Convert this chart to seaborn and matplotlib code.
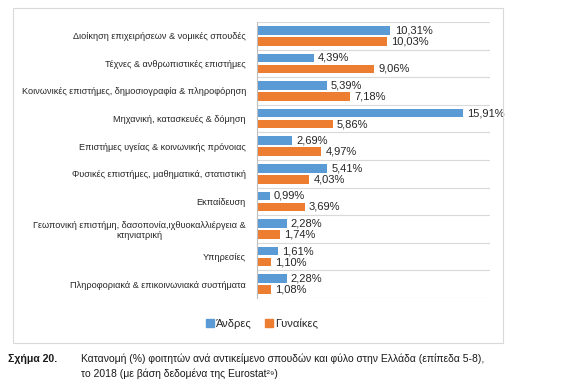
import pandas as pd
import matplotlib.pyplot as plt
from matplotlib.patches import Rectangle, Patch
import seaborn as sns

categories = [
    'Διοίκηση επιχειρήσεων & νομικές σπουδές',
    'Τέχνες & ανθρωπιστικές επιστήμες',
    'Κοινωνικές επιστήμες, δημοσιογραφία & πληροφόρηση',
    'Μηχανική, κατασκευές & δόμηση',
    'Επιστήμες υγείας & κοινωνικής πρόνοιας',
    'Φυσικές επιστήμες, μαθηματικά, στατιστική',
    'Εκπαίδευση',
    'Γεωπονική επιστήμη, δασοπονία,ιχθυοκαλλιέργεια &\nκτηνιατρική',
    'Υπηρεσίες',
    'Πληροφοριακά & επικοινωνιακά συστήματα',
]
men = [10.31, 4.39, 5.39, 15.91, 2.69, 5.41, 0.99, 2.28, 1.61, 2.28]
women = [10.03, 9.06, 7.18, 5.86, 4.97, 4.03, 3.69, 1.74, 1.10, 1.08]
series = ['Άνδρες', 'Γυναίκες']
colors = ['#5B9BD5', '#ED7D31']

df = pd.DataFrame({
    'cat': categories * 2,
    'val': men + women,
    'sex': [series[0]] * len(men) + [series[1]] * len(women),
})

sns.set_style('white')
plt.rcParams['font.family'] = ['Liberation Sans', 'DejaVu Sans']

fig = plt.figure(figsize=(5.63, 3.92), dpi=100)
ax = fig.add_axes([257 / 563, 1 - 298 / 392, 233 / 563, 276 / 392])

sns.barplot(data=df, y='cat', x='val', hue='sex', orient='h',
            palette=colors, gap=0.22, ax=ax, legend=False, linewidth=0,
            saturation=1)

for cont, vals in zip(ax.containers, [men, women]):
    ax.bar_label(cont, labels=[f'{v:.2f}%'.replace('.', ',') for v in vals],
                 padding=3, fontsize=8, color='#262626')

ax.set_xlim(0, 18)
ax.set_ylim(len(categories) - 0.5, -0.5)
ax.set_xlabel('')
ax.set_ylabel('')
ax.set_xticks([])
for y in range(len(categories) + 1):
    ax.axhline(y - 0.5, color='#d9d9d9', lw=0.8, zorder=0)
for s in ['top', 'right', 'bottom']:
    ax.spines[s].set_visible(False)
ax.spines['left'].set_color('#bfbfbf')
ax.tick_params(axis='y', length=0, pad=8, labelsize=6.6, labelcolor='#262626')
for t in ax.get_yticklabels():
    t.set_multialignment('center')

handles = [Patch(color=c, label=s) for c, s in zip(colors, series)]
fig.legend(handles=handles, loc='center', bbox_to_anchor=(262 / 563, 1 - 324 / 392),
           ncol=2, frameon=False, fontsize=8, handlelength=0.7, handleheight=0.7,
           handletextpad=0.2, columnspacing=1.2, labelcolor='#262626')

fig.patches.append(Rectangle((13 / 563, 1 - 343 / 392), 490 / 563, 335 / 392,
                             transform=fig.transFigure, fill=False,
                             edgecolor='#d9d9d9', lw=0.8))

fig.text(8 / 563, 1 - 359 / 392, 'Σχήμα 20.', fontsize=7.6, fontweight='bold',
         va='center', color='#1a1a1a')
fig.text(81 / 563, 1 - 359 / 392,
         'Κατανομή (%) φοιτητών ανά αντικείμενο σπουδών και φύλο στην Ελλάδα (επίπεδα 5-8),',
         fontsize=7.5, va='center', color='#1a1a1a')
fig.text(81 / 563, 1 - 374 / 392, 'το 2018 (με βάση δεδομένα της Eurostat²⁹)',
         fontsize=7.5, va='center', color='#1a1a1a')

fig.savefig('out.png', dpi=100)
